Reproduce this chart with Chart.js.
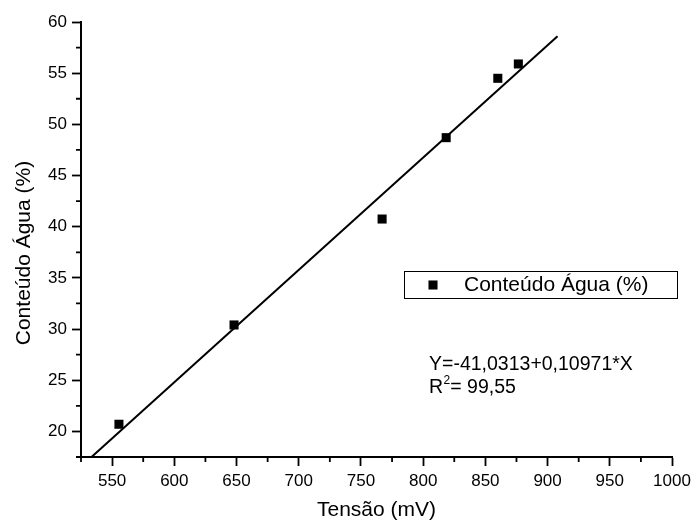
<!DOCTYPE html>
<html>
<head>
<meta charset="utf-8">
<script src="https://cdn.jsdelivr.net/npm/chart.js@4/dist/chart.umd.min.js"></script>
<style>
  html, body { margin: 0; padding: 0; background: #fff; }
  #wrap { width: 691px; height: 521px; position: relative; }
</style>
</head>
<body>
<div id="wrap"><canvas id="c" width="691" height="521"></canvas></div>
<script>
// ---- data ----
const tensao   = [555.5, 648, 767, 818.5, 860, 876.5];
const conteudo = [20.7, 30.4, 40.75, 48.7, 54.5, 55.9];
const fitX = [533, 908];
const fitY = [17.45, 58.6];
const xTicks = [550, 600, 650, 700, 750, 800, 850, 900, 950, 1000];
const yTicks = [20, 25, 30, 35, 40, 45, 50, 55, 60];
const xMinor = [525, 575, 625, 675, 725, 775, 825, 875, 925, 975];
const yMinor = [17.5, 22.5, 27.5, 32.5, 37.5, 42.5, 47.5, 52.5, 57.5];
const seriesLabel = 'Conteúdo Água (%)';
const xTitle = 'Tensão (mV)';
const yTitle = 'Conteúdo Água (%)';
const eqText = 'Y=-41,0313+0,10971*X';
const r2Parts = ['R', '2', '= 99,55'];

const FONT = 'Liberation Sans, Arial, sans-serif';
const POINT_R = 6.4;

const extras = {
  id: 'extras',
  afterDraw(chart) {
    const ctx = chart.ctx;
    const xs = chart.scales.x, ys = chart.scales.y;
    const a = chart.chartArea;
    ctx.save();
    // minor ticks
    ctx.strokeStyle = '#000';
    ctx.lineWidth = 1.8;
    ctx.beginPath();
    xMinor.forEach(v => {
      const px = xs.getPixelForValue(v);
      ctx.moveTo(px, a.bottom); ctx.lineTo(px, a.bottom + 5);
    });
    yMinor.forEach(v => {
      const py = ys.getPixelForValue(v);
      ctx.moveTo(a.left - 5, py); ctx.lineTo(a.left, py);
    });
    ctx.stroke();

    ctx.fillStyle = '#000';
    // axis titles
    ctx.font = '21px ' + FONT;
    ctx.textAlign = 'center';
    ctx.textBaseline = 'middle';
    ctx.fillText(xTitle, (a.left + a.right) / 2, 510);
    ctx.save();
    ctx.translate(24, 253);
    ctx.rotate(-Math.PI / 2);
    ctx.fillText(yTitle, 0, 0);
    ctx.restore();

    // legend box
    ctx.lineWidth = 1;
    ctx.strokeRect(404.5, 271.5, 273, 27);
    const s = POINT_R * Math.SQRT1_2;
    ctx.fillRect(433 - s, 285 - s, 2 * s, 2 * s);
    ctx.textAlign = 'left';
    ctx.fillText(seriesLabel, 464, 285);

    // equation
    ctx.font = '19.5px ' + FONT;
    ctx.fillText(eqText, 429, 365);
    ctx.fillText(r2Parts[0], 429, 388);
    const rw = ctx.measureText(r2Parts[0]).width;
    ctx.font = '12px ' + FONT;
    ctx.fillText(r2Parts[1], 429 + rw + 0.5, 381);
    const sw = ctx.measureText(r2Parts[1]).width;
    ctx.font = '19.5px ' + FONT;
    ctx.fillText(r2Parts[2], 429 + rw + 0.5 + sw, 388);
    ctx.restore();
  }
};

new Chart(document.getElementById('c'), {
  data: {
    datasets: [
      {
        type: 'scatter',
        label: seriesLabel,
        data: tensao.map((x, i) => ({ x, y: conteudo[i] })),
        pointStyle: 'rect',
        pointRadius: POINT_R,
        backgroundColor: '#000',
        borderColor: '#000',
        borderWidth: 0
      },
      {
        type: 'line',
        label: 'fit',
        data: fitX.map((x, i) => ({ x, y: fitY[i] })),
        borderColor: '#000',
        borderWidth: 2,
        pointRadius: 0,
        fill: false
      }
    ]
  },
  options: {
    responsive: false,
    animation: false,
    devicePixelRatio: 1,
    layout: { padding: { left: 0, top: 22, right: 19, bottom: 0 } },
    plugins: { legend: { display: false }, tooltip: { enabled: false } },
    scales: {
      x: {
        type: 'linear', min: 525, max: 1000,
        afterBuildTicks: s => { s.ticks = xTicks.map(v => ({ value: v })); },
        afterFit: s => { s.height = 64; s.paddingLeft = 0; s.paddingRight = 0; },
        grid: { drawOnChartArea: false, tickLength: 9, tickWidth: 1.8, tickColor: '#000' },
        border: { color: '#000', width: 2 },
        ticks: { color: '#000', font: { family: FONT, size: 17 }, padding: 5, maxRotation: 0, autoSkip: false,
                 callback: v => String(v) }
      },
      y: {
        type: 'linear', min: 17.5, max: 60,
        afterBuildTicks: s => { s.ticks = yTicks.map(v => ({ value: v })); },
        afterFit: s => { s.width = 81; s.paddingTop = 0; s.paddingBottom = 0; },
        grid: { drawOnChartArea: false, tickLength: 9, tickWidth: 1.8, tickColor: '#000' },
        border: { color: '#000', width: 2 },
        ticks: { color: '#000', font: { family: FONT, size: 17 }, padding: 5, autoSkip: false,
                 callback: v => String(v) }
      }
    }
  },
  plugins: [extras]
});
</script>
</body>
</html>
